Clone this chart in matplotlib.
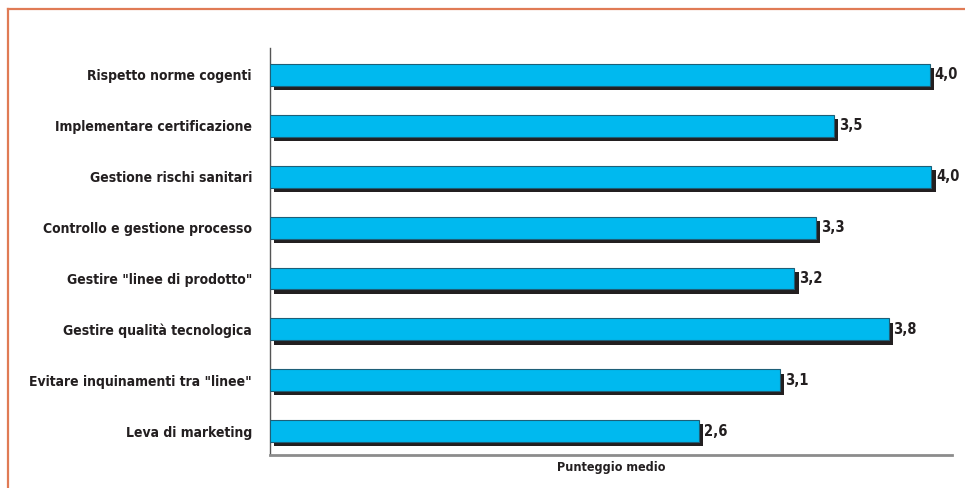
import matplotlib.pyplot as plt
from matplotlib.lines import Line2D

categories = [
    'Rispetto norme cogenti',
    'Implementare certificazione',
    'Gestione rischi sanitari',
    'Controllo e gestione processo',
    'Gestire "linee di prodotto"',
    'Gestire qualità tecnologica',
    'Evitare inquinamenti tra "linee"',
    'Leva di marketing',
]
values = [4.0, 3.42, 4.01, 3.31, 3.18, 3.75, 3.09, 2.6]
value_labels = ['4,0', '3,5', '4,0', '3,3', '3,2', '3,8', '3,1', '2,6']

CYAN = '#00b9ef'
INK = '#231f20'
txt_kw = dict(family='DejaVu Sans', fontstretch='condensed', fontweight='bold', color=INK)

fig = plt.figure(figsize=(9.65, 4.88), dpi=100)
ax = fig.add_axes([270 / 965, 33 / 488, 682 / 965, 407 / 488])

y = list(range(len(categories)))
h = 0.43
dx, dy = 0.025, 0.085

# shadow first, then the cyan bar on top
ax.barh([i + dy for i in y], values, left=dx, height=h, color=INK, zorder=2)
ax.barh(y, values, height=h, color=CYAN, edgecolor='#1d5f78', linewidth=0.8, zorder=3)

for i, v in enumerate(values):
    ax.text(v + dx + 0.005, i, value_labels[i], va='center', ha='left', fontsize=10.5, **txt_kw)

ax.set_xlim(0, 4.135)
ax.set_ylim(7.47, -0.53)
ax.set_yticks(y)
ax.set_yticklabels(categories, fontsize=10, **txt_kw)
ax.tick_params(axis='y', length=0, pad=13)
ax.set_xticks([])

for s in ['top', 'right']:
    ax.spines[s].set_visible(False)
ax.spines['left'].set_color('#555555')
ax.spines['left'].set_linewidth(1.0)
ax.spines['bottom'].set_color('#8c8c8c')
ax.spines['bottom'].set_linewidth(2.0)

ax.set_xlabel('Punteggio medio', fontsize=9, labelpad=4, **txt_kw)

# orange frame at top and left
fig.add_artist(Line2D([8 / 965, 1.0], [1 - 9 / 488, 1 - 9 / 488], color='#e07b55', lw=1.6,
                      transform=fig.transFigure))
fig.add_artist(Line2D([8 / 965, 8 / 965], [0, 1 - 9 / 488], color='#e07b55', lw=1.6,
                      transform=fig.transFigure))

fig.savefig('out.png', dpi=100)
